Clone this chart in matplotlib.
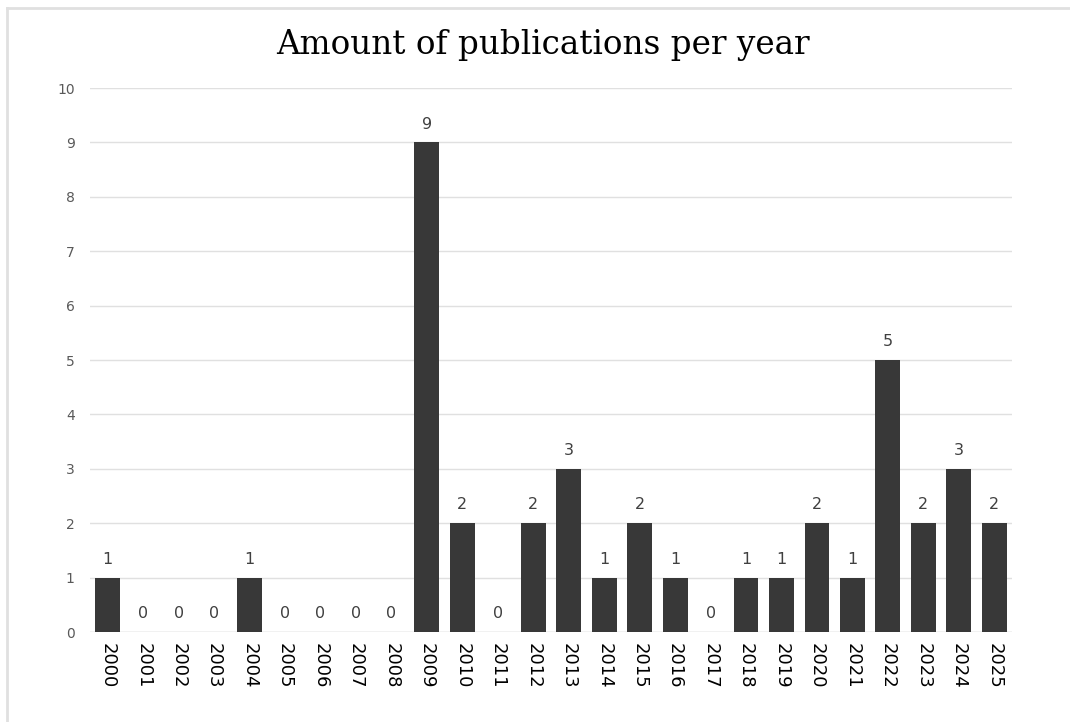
import matplotlib.pyplot as plt
from matplotlib.lines import Line2D

years = [str(y) for y in range(2000, 2026)]
counts = [1, 0, 0, 0, 1, 0, 0, 0, 0, 9, 2, 0, 2, 3, 1, 2, 1, 0, 1, 1, 2, 1, 5, 2, 3, 2]

fig = plt.figure(figsize=(10.7, 7.22), dpi=100)
ax = fig.add_axes([90 / 1070, 1 - 632 / 722, 922 / 1070, 544 / 722])

# light frame (only top and left edges show in the screenshot)
fx, fy = 7 / 1070, 1 - 8 / 722
fig.add_artist(Line2D([fx, 1], [fy, fy], transform=fig.transFigure,
                      color='#e0e0e0', linewidth=2))
fig.add_artist(Line2D([fx, fx], [0, fy], transform=fig.transFigure,
                      color='#e0e0e0', linewidth=2))

x = range(len(years))
ax.bar(x, counts, width=0.7, color='#383838', zorder=3)

for i, v in enumerate(counts):
    ax.text(i, v + 0.2, str(v), ha='center', va='bottom', fontsize=11.5,
            color='#404040', zorder=4)

ax.set_xlim(-0.5, len(years) - 0.5)
ax.set_ylim(0, 10)
ax.set_yticks(range(0, 11))
ax.set_xticks(list(x))
ax.set_xticklabels(years, rotation=-90, fontsize=13, color='black')
ax.tick_params(axis='y', labelsize=10, labelcolor='#595959', length=0, pad=11)
ax.tick_params(axis='x', length=0, pad=8)
ax.grid(axis='y', color='#e0e0e0', linewidth=1, zorder=0)
for s in ax.spines.values():
    s.set_visible(False)
ax.axhline(0, color='#d9d9d9', linewidth=1, zorder=2)

fig.text(543 / 1070, 1 - 45 / 722, 'Amount of publications per year',
         ha='center', va='center', fontsize=23.5, family='DejaVu Serif')

fig.savefig('out.png', dpi=100)
